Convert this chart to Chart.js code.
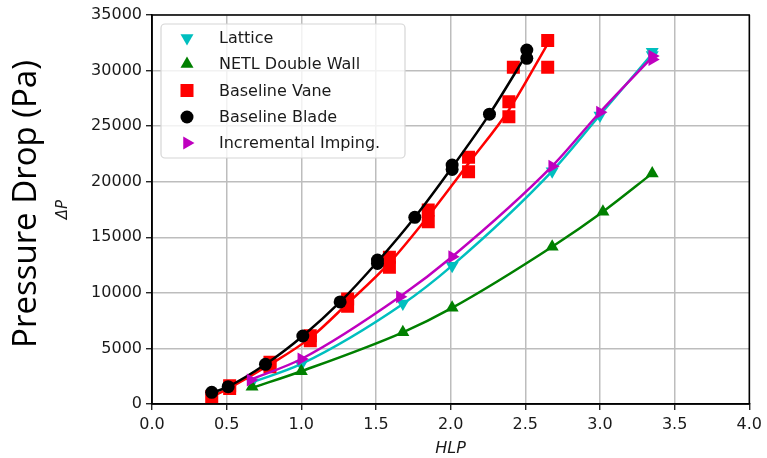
<!DOCTYPE html>
<html>
<head>
<meta charset="utf-8">
<script src="https://cdn.jsdelivr.net/npm/chart.js@4.4.1/dist/chart.umd.min.js"></script>
<style>
  html, body { margin: 0; padding: 0; background: #fff; }
  #wrap { width: 767px; height: 458px; position: relative; }
</style>
</head>
<body>
<div id="wrap"><canvas id="c" width="767" height="458"></canvas></div>
<script>
// ---- data: HLP vs pressure drop ----
const seriesNames = ['Lattice', 'NETL Double Wall', 'Baseline Vane', 'Baseline Blade', 'Incremental Imping.'];

// measured points
const latticeHLP = [0.67, 1.00, 1.68, 2.01, 2.68, 3.00, 3.35, 3.35];
const latticeDP  = [1950, 3550, 9050, 12450, 20950, 25950, 31400, 31700];

const netlHLP = [0.67, 1.00, 1.68, 2.01, 2.68, 3.02, 3.35];
const netlDP  = [1550, 2950, 6450, 8650, 14150, 17300, 20750];

const vaneHLP = [0.40, 0.52, 0.52, 0.79, 0.79, 1.06, 1.06, 1.31, 1.31, 1.59, 1.59, 1.85, 1.85, 2.12, 2.12, 2.39, 2.39, 2.42, 2.65, 2.65];
const vaneDP  = [650, 1400, 1650, 3350, 3750, 5700, 6150, 8800, 9450, 12300, 13200, 16400, 17450, 20900, 22200, 25850, 27200, 30300, 30300, 32700];

const bladeHLP = [0.40, 0.51, 0.76, 1.01, 1.26, 1.51, 1.51, 1.76, 2.01, 2.01, 2.26, 2.51, 2.51];
const bladeDP  = [1050, 1560, 3570, 6120, 9180, 12650, 12950, 16800, 21100, 21500, 26080, 31100, 31850];

const impingHLP = [0.66, 1.00, 1.66, 2.01, 2.68, 3.00, 3.35, 3.35];
const impingDP  = [2150, 4050, 9650, 13250, 21400, 26250, 31000, 31300];

// fitted trend curves
const latticeFitHLP = [0.67, 1.00, 1.68, 2.01, 2.68, 3.00, 3.35];
const latticeFitDP  = [1950, 3600, 9000, 12450, 20950, 26000, 31500];

const netlFitHLP = [0.67, 1.00, 1.68, 2.01, 2.68, 3.02, 3.35];
const netlFitDP  = [1450, 2950, 6450, 8650, 14150, 17300, 20750];

const vaneFitHLP = [0.40, 0.52, 0.79, 1.06, 1.31, 1.59, 1.85, 2.12, 2.39, 2.65];
const vaneFitDP  = [650, 1450, 3550, 5950, 9050, 12700, 16900, 21650, 26450, 32400];

const bladeFitHLP = [0.40, 0.51, 0.76, 1.01, 1.26, 1.51, 1.76, 2.01, 2.26, 2.51];
const bladeFitDP  = [1000, 1560, 3570, 6120, 9180, 12800, 16800, 21300, 26080, 31500];

const impingFitHLP = [0.66, 1.00, 1.66, 2.01, 2.68, 3.00, 3.35];
const impingFitDP  = [2200, 4050, 9650, 13250, 21400, 26250, 31200];

const xTicks = [0, 0.5, 1, 1.5, 2, 2.5, 3, 3.5, 4];
const yTicks = [0, 5000, 10000, 15000, 20000, 25000, 30000, 35000];

// ---- styling ----
const colors  = ['#00bfbf', '#008000', '#ff0000', '#000000', '#bf00bf'];
const markers = [
  { pointStyle: 'triangle', rotation: 180, radius: 7.5 },
  { pointStyle: 'triangle', rotation: 0,   radius: 7.5 },
  { pointStyle: 'rect',     rotation: 0,   radius: 9.2 },
  { pointStyle: 'circle',   rotation: 0,   radius: 6.5 },
  { pointStyle: 'triangle', rotation: 90,  radius: 7.5 }
];

const pts = (xs, ys) => xs.map((x, i) => ({ x: x, y: ys[i] }));

const pointSets = [
  pts(latticeHLP, latticeDP), pts(netlHLP, netlDP), pts(vaneHLP, vaneDP),
  pts(bladeHLP, bladeDP), pts(impingHLP, impingDP)
];
const fitSets = [
  pts(latticeFitHLP, latticeFitDP), pts(netlFitHLP, netlFitDP), pts(vaneFitHLP, vaneFitDP),
  pts(bladeFitHLP, bladeFitDP), pts(impingFitHLP, impingFitDP)
];

// stacking: lower order is drawn on top
const stackOrder = [8, 6, 4, 2, 0];

const datasets = [];
seriesNames.forEach((name, i) => {
  datasets.push({
    label: name + ' fit',
    data: fitSets[i],
    showLine: true,
    borderColor: colors[i],
    borderWidth: 2.5,
    pointRadius: 0,
    pointHoverRadius: 0,
    cubicInterpolationMode: 'monotone',
    fill: false,
    order: stackOrder[i] + 1
  });
  datasets.push({
    label: name,
    data: pointSets[i],
    showLine: false,
    pointStyle: markers[i].pointStyle,
    rotation: markers[i].rotation,
    pointRadius: markers[i].radius,
    pointHoverRadius: markers[i].radius,
    backgroundColor: colors[i],
    borderColor: colors[i],
    pointBorderWidth: 0,
    order: stackOrder[i]
  });
});

const TICK_FONT = { family: '"DejaVu Sans", sans-serif', size: 16 };

// frame, in-plot legend and outer axis caption
const decorations = {
  id: 'decorations',
  afterDatasetsDraw(chart) {
    const ctx = chart.ctx;
    const a = chart.chartArea;
    ctx.save();
    ctx.strokeStyle = '#000';
    ctx.lineWidth = 1.5;
    ctx.strokeRect(a.left, a.top, a.right - a.left, a.bottom - a.top);
    ctx.restore();
  },
  afterDraw(chart) {
    const ctx = chart.ctx;
    // legend box
    const bx = 161, by = 24, bw = 244, bh = 134, r = 4;
    ctx.save();
    ctx.beginPath();
    ctx.moveTo(bx + r, by);
    ctx.lineTo(bx + bw - r, by);
    ctx.arcTo(bx + bw, by, bx + bw, by + r, r);
    ctx.lineTo(bx + bw, by + bh - r);
    ctx.arcTo(bx + bw, by + bh, bx + bw - r, by + bh, r);
    ctx.lineTo(bx + r, by + bh);
    ctx.arcTo(bx, by + bh, bx, by + bh - r, r);
    ctx.lineTo(bx, by + r);
    ctx.arcTo(bx, by, bx + r, by, r);
    ctx.closePath();
    ctx.fillStyle = 'rgba(255,255,255,0.8)';
    ctx.fill();
    ctx.strokeStyle = '#d6d6d6';
    ctx.lineWidth = 1.2;
    ctx.stroke();

    const rowY = [38, 64, 90.5, 117, 143];
    ctx.font = '16px "DejaVu Sans", sans-serif';
    ctx.textBaseline = 'middle';
    ctx.textAlign = 'left';
    seriesNames.forEach((name, i) => {
      ctx.fillStyle = colors[i];
      ctx.strokeStyle = colors[i];
      Chart.helpers.drawPoint(ctx, {
        pointStyle: markers[i].pointStyle,
        rotation: markers[i].rotation,
        radius: markers[i].radius,
        borderWidth: 0
      }, 187, rowY[i]);
      ctx.fillStyle = '#1a1a1a';
      ctx.fillText(name, 219, rowY[i] + 1);
    });
    ctx.restore();

    // outer caption
    ctx.save();
    ctx.translate(36, 204);
    ctx.rotate(-Math.PI / 2);
    ctx.font = '33px "Open Sans", sans-serif';
    ctx.fillStyle = '#000';
    ctx.textAlign = 'center';
    ctx.textBaseline = 'alphabetic';
    ctx.fillText('Pressure Drop (Pa)', 0, 0);
    ctx.restore();
  }
};

new Chart(document.getElementById('c'), {
  type: 'scatter',
  data: { datasets: datasets },
  options: {
    responsive: false,
    animation: false,
    devicePixelRatio: 1,
    layout: { padding: { left: 0, right: 15, top: 15, bottom: 0 } },
    plugins: {
      legend: { display: false },
      tooltip: { enabled: false }
    },
    scales: {
      x: {
        type: 'linear',
        min: 0, max: 4,
        afterBuildTicks(scale) { scale.ticks = xTicks.map(v => ({ value: v })); },
        afterFit(scale) { scale.height = 54; },
        ticks: {
          font: TICK_FONT,
          color: '#1a1a1a',
          padding: 5,
          maxRotation: 0,
          callback: v => Number(v).toFixed(1)
        },
        grid: {
          color: '#bdbdbd',
          lineWidth: 1.5,
          tickColor: '#000',
          tickLength: 6,
          tickWidth: 1.2
        },
        border: { display: true, color: '#000', width: 1.5 },
        title: {
          display: true,
          text: 'HLP',
          color: '#1a1a1a',
          font: { family: '"DejaVu Sans", sans-serif', size: 16, style: 'italic' },
          padding: { top: 0, bottom: 0 }
        }
      },
      y: {
        type: 'linear',
        min: 0, max: 35000,
        afterBuildTicks(scale) { scale.ticks = yTicks.map(v => ({ value: v })); },
        afterFit(scale) { scale.width = 152; },
        ticks: {
          font: TICK_FONT,
          color: '#1a1a1a',
          padding: 4,
          callback: v => String(v)
        },
        grid: {
          color: '#bdbdbd',
          lineWidth: 1.5,
          tickColor: '#000',
          tickLength: 6,
          tickWidth: 1.2
        },
        border: { display: true, color: '#000', width: 1.5 },
        title: {
          display: true,
          text: 'ΔP',
          color: '#1a1a1a',
          font: { family: '"DejaVu Sans", sans-serif', size: 15, style: 'italic' },
          padding: { top: 54, bottom: 0 }
        }
      }
    }
  },
  plugins: [decorations]
});
</script>
</body>
</html>
